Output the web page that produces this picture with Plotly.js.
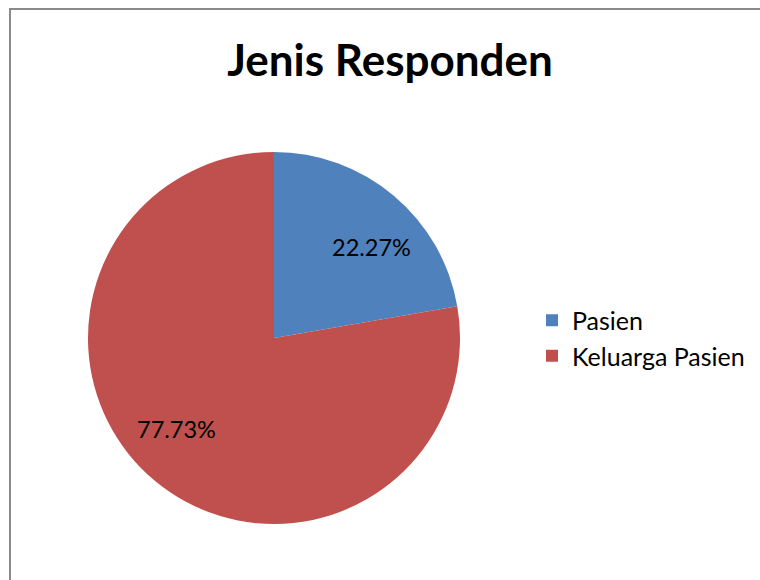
<!DOCTYPE html>
<html><head><meta charset="utf-8">
<script src="https://cdn.plot.ly/plotly-3.0.1.min.js"></script>
<style>html,body{margin:0;padding:0;background:#fff}#chart{width:760px;height:580px}</style>
</head><body><div id="chart"></div>
<script>
const labels = ["Pasien", "Keluarga Pasien"];
const values = [22.27, 77.73];
const colors = ["#4F81BD", "#C0504D"];

const W = 760, H = 580;
const cx = 274, cy = 338, r = 186;
const FONT = "Lato, 'Open Sans', sans-serif";

const trace = {
  type: "pie",
  labels: labels,
  values: values,
  sort: false,
  direction: "clockwise",
  rotation: 0,
  marker: {colors: colors, line: {width: 0}},
  textinfo: "none",
  hoverinfo: "label+percent",
  domain: {x: [(cx - r) / W, (cx + r) / W], y: [1 - (cy + r) / H, 1 - (cy - r) / H]}
};

// data labels placed along each slice's bisector (computed from values)
const total = values.reduce((a, b) => a + b, 0);
const annotations = [];
let acc = 0;
values.forEach((v, i) => {
  const mid = (acc + v / 2) / total * 2 * Math.PI + 7 * Math.PI / 180;
  acc += v;
  const px = cx + 0.715 * r * Math.sin(mid);
  const py = cy - 0.715 * r * Math.cos(mid);
  annotations.push({
    xref: "paper", yref: "paper", x: px / W, y: 1 - py / H,
    xanchor: "center", yanchor: "middle", showarrow: false,
    text: (v / total * 100).toFixed(2) + "%",
    font: {family: FONT, size: 23.5, color: "#000"}
  });
});

const layout = {
  width: W, height: H,
  margin: {l: 0, r: 0, t: 0, b: 0},
  paper_bgcolor: "#fff",
  title: {text: "<b>Jenis Responden</b>", x: 390 / W, xanchor: "center", y: 1 - 61 / H, yanchor: "middle",
          font: {family: FONT, size: 44, color: "#000"}},
  showlegend: true,
  legend: {x: 532 / W, xanchor: "left", y: 1 - 338 / H, yanchor: "middle",
           font: {family: FONT, size: 25, color: "#000"},
           itemwidth: 30, bgcolor: "rgba(0,0,0,0)"},
  annotations: annotations,
  shapes: [{type: "rect", xref: "paper", yref: "paper", x0: 10 / W, x1: 1.02, y0: -0.02, y1: 1 - 9 / H,
            line: {color: "#8a8a8a", width: 2}, fillcolor: "rgba(0,0,0,0)", layer: "below"}]
};

Plotly.newPlot("chart", [trace], layout, {displayModeBar: false});
</script></body></html>
